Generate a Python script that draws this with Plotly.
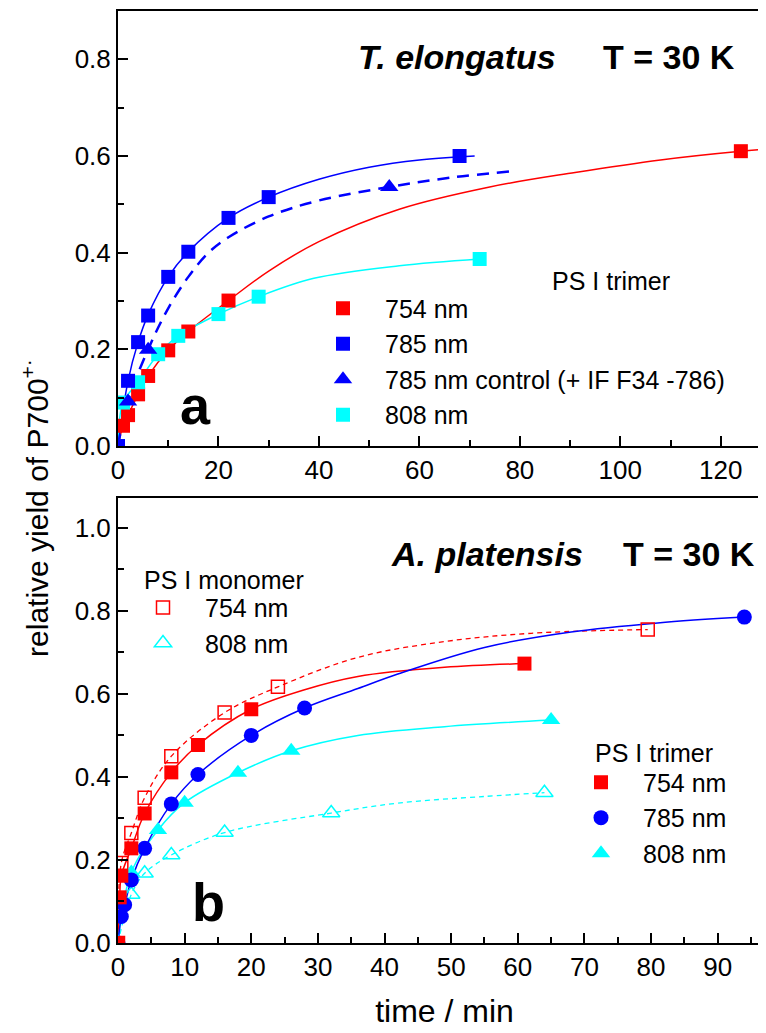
import plotly.graph_objects as go

# ---------------- Panel a : T. elongatus (PS I trimer) ----------------
a_t_754 = [0, 1, 2, 4, 6, 10, 14, 22, 124]
a_v_754 = [0, 0.042, 0.064, 0.107, 0.145, 0.198, 0.237, 0.301, 0.61]
a_t_785 = [0, 2, 4, 6, 10, 14, 22, 30, 68]
a_v_785 = [0, 0.135, 0.215, 0.27, 0.35, 0.402, 0.472, 0.515, 0.60]
a_t_ctl = [0, 2, 6, 54]
a_v_ctl = [0, 0.092, 0.199, 0.536]
a_t_808 = [0, 1, 4, 8, 12, 20, 28, 72]
a_v_808 = [0, 0.09, 0.132, 0.19, 0.228, 0.273, 0.309, 0.387]

# fit curves
a_fit_t_754 = [0, 1, 2, 4, 6, 10, 14, 22, 30, 40, 56, 74, 91, 108, 124, 130]
a_fit_v_754 = [0, 0.042, 0.064, 0.107, 0.145, 0.198, 0.237, 0.301, 0.362, 0.423, 0.49, 0.536, 0.566, 0.592, 0.61, 0.615]
a_fit_t_785 = [0, 2, 4, 6, 10, 14, 22, 30, 40, 50, 60, 71]
a_fit_v_785 = [0, 0.135, 0.215, 0.272, 0.35, 0.402, 0.472, 0.515, 0.552, 0.577, 0.592, 0.60]
a_fit_t_ctl = [0, 2, 6, 10, 14, 18, 22, 30, 40, 54, 66, 78]
a_fit_v_ctl = [0, 0.094, 0.2, 0.285, 0.35, 0.40, 0.432, 0.475, 0.508, 0.536, 0.555, 0.568]
a_fit_t_808 = [0, 1, 4, 8, 12, 20, 28, 39, 56, 72]
a_fit_v_808 = [0, 0.09, 0.132, 0.19, 0.228, 0.273, 0.309, 0.347, 0.373, 0.387]

# ---------------- Panel b : A. platensis ----------------
b_t_tri754 = [0, 0.25, 0.5, 2, 4, 8, 12, 20, 61]
b_v_tri754 = [0, 0.11, 0.162, 0.228, 0.312, 0.411, 0.477, 0.563, 0.673]
b_t_tri785 = [0, 0.5, 1, 2, 4, 8, 12, 20, 28, 94]
b_v_tri785 = [0, 0.064, 0.092, 0.152, 0.228, 0.335, 0.406, 0.50, 0.566, 0.785]
b_t_tri808 = [0, 2, 6, 10, 18, 26, 65]
b_v_tri808 = [0, 0.17, 0.272, 0.338, 0.41, 0.463, 0.537]
b_t_mon754 = [0, 0.5, 2, 4, 8, 16, 24, 79.5]
b_v_mon754 = [0, 0.193, 0.265, 0.35, 0.45, 0.555, 0.617, 0.755]
b_t_mon808 = [0, 2, 4, 8, 16, 32, 64]
b_v_mon808 = [0, 0.117, 0.168, 0.212, 0.266, 0.313, 0.362]

b_fit_t_tri754 = [0, 0.25, 0.5, 2, 4, 8, 12, 20, 28, 36, 49, 61]
b_fit_v_tri754 = [0, 0.11, 0.162, 0.228, 0.312, 0.411, 0.477, 0.563, 0.61, 0.642, 0.664, 0.673]
b_fit_t_tri785 = [0, 0.5, 1, 2, 4, 8, 12, 20, 28, 36, 42, 55, 68, 81, 94]
b_fit_v_tri785 = [0, 0.064, 0.092, 0.152, 0.228, 0.335, 0.406, 0.50, 0.566, 0.613, 0.648, 0.712, 0.749, 0.771, 0.785]
b_fit_t_tri808 = [0, 2, 6, 10, 18, 26, 36, 49, 65]
b_fit_v_tri808 = [0, 0.17, 0.272, 0.338, 0.41, 0.463, 0.50, 0.521, 0.537]
b_fit_t_mon754 = [0, 0.5, 2, 4, 8, 16, 24, 36, 49, 62, 79.5]
b_fit_v_mon754 = [0, 0.193, 0.265, 0.35, 0.45, 0.555, 0.617, 0.688, 0.726, 0.746, 0.755]
b_fit_t_mon808 = [0, 2, 4, 8, 16, 32, 42, 55, 64]
b_fit_v_mon808 = [0, 0.117, 0.168, 0.212, 0.266, 0.313, 0.337, 0.353, 0.362]

RED = "#FF0000"
BLUE = "#0000FF"
CYAN = "#00FFFF"
FONT = "Liberation Sans, Arial, sans-serif"

fig = go.Figure()


def fit(t, v, color, xa, ya, dash="solid", width=1.5):
    fig.add_trace(go.Scatter(x=t, y=v, mode="lines", xaxis=xa, yaxis=ya,
                             line=dict(color=color, width=width, dash=dash, shape="spline", smoothing=1.0),
                             showlegend=False, hoverinfo="skip"))


def pts(t, v, color, symbol, size, name, xa, ya, legend, rank, open_=False):
    marker = dict(symbol=symbol, size=size, color=color)
    if open_:
        marker["line"] = dict(color=color, width=1.5)
    else:
        marker["line"] = dict(width=0)
    fig.add_trace(go.Scatter(x=t, y=v, mode="markers", xaxis=xa, yaxis=ya, marker=marker,
                             name=name, legend=legend, legendrank=rank))

# panel a fits
fit(a_fit_t_754, a_fit_v_754, RED, "x", "y")
fit(a_fit_t_808, a_fit_v_808, CYAN, "x", "y")
fit(a_fit_t_785, a_fit_v_785, BLUE, "x", "y")
fit(a_fit_t_ctl, a_fit_v_ctl, BLUE, "x", "y", dash="12px,8px", width=2.5)
# panel a points
pts(a_t_754, a_v_754, RED, "square", 14, "754 nm", "x", "y", "legend", 1)
pts(a_t_808, a_v_808, CYAN, "square", 14, "808 nm", "x", "y", "legend", 4)
pts(a_t_785, a_v_785, BLUE, "square", 14, "785 nm", "x", "y", "legend", 2)
pts(a_t_ctl, a_v_ctl, BLUE, "triangle-up", 16, "785 nm control (+ IF F34 -786)", "x", "y", "legend", 3)

# panel b fits
fit(b_fit_t_mon754, b_fit_v_mon754, RED, "x2", "y2", dash="5px,4px", width=1.3)
fit(b_fit_t_mon808, b_fit_v_mon808, CYAN, "x2", "y2", dash="5px,4px", width=1.3)
fit(b_fit_t_tri754, b_fit_v_tri754, RED, "x2", "y2")
fit(b_fit_t_tri808, b_fit_v_tri808, CYAN, "x2", "y2")
fit(b_fit_t_tri785, b_fit_v_tri785, BLUE, "x2", "y2")
# panel b points
pts(b_t_mon754, b_v_mon754, RED, "square-open", 13, "754 nm", "x2", "y2", "legend3", 1, open_=True)
pts(b_t_mon808, b_v_mon808, CYAN, "triangle-up-open", 15, "808 nm", "x2", "y2", "legend3", 2, open_=True)
pts(b_t_tri808, b_v_tri808, CYAN, "triangle-up", 16, "808 nm", "x2", "y2", "legend2", 3)
pts(b_t_tri785, b_v_tri785, BLUE, "circle", 15, "785 nm", "x2", "y2", "legend2", 2)
pts(b_t_tri754, b_v_tri754, RED, "square", 14, "754 nm", "x2", "y2", "legend2", 1)

TICKFONT = dict(family=FONT, size=26, color="black")
axis_common = dict(showline=True, linecolor="black", linewidth=2, mirror=True,
                   ticks="inside", ticklen=10, tickwidth=2, tickcolor="black",
                   showgrid=False, zeroline=False, tickfont=TICKFONT)
minor_common = dict(ticks="inside", ticklen=6, tickwidth=2, tickcolor="black")

W, H = 766, 1033
L, B, PW, PH = 110, 98, 653, 934
def px(xp):
    return (xp - L) / PW
def py(yp):
    return (H - B - yp) / PH

LEGFONT = dict(family=FONT, size=25, color="black")
leg_common = dict(xanchor="left", yanchor="top", font=LEGFONT, bgcolor="rgba(0,0,0,0)",
                  itemwidth=74, traceorder="normal", itemsizing="trace", tracegroupgap=0)
fig.update_layout(
    width=W, height=H,
    margin=dict(l=L, r=W - L - PW, t=H - B - PH, b=B),
    paper_bgcolor="white", plot_bgcolor="white",
    font=dict(family=FONT, color="black"),
    xaxis=dict(domain=[0, 1], anchor="y", range=[0, 130], dtick=20,
               minor=dict(dtick=10, **minor_common), **axis_common),
    yaxis=dict(domain=[py(437), 1], anchor="x", range=[0, 0.9], dtick=0.2, tickformat=".1f",
               minor=dict(dtick=0.1, **minor_common), **axis_common),
    xaxis2=dict(domain=[0, 1], anchor="y2", range=[0, 98], dtick=10,
                minor=dict(dtick=5, **minor_common),
                title=dict(text="time / min", font=dict(family=FONT, size=32), standoff=18),
                **axis_common),
    yaxis2=dict(domain=[0, py(489)], anchor="x2", range=[0, 1.072], dtick=0.2, tickformat=".1f",
                minor=dict(dtick=0.1, **minor_common), **axis_common),
    legend=dict(x=px(293), y=py(276), **leg_common),
    legend2=dict(x=px(551), y=py(751), **leg_common),
    legend3=dict(x=px(113), y=py(576), **leg_common),
)

ann = []
def txt(text, x, y, size, xanchor="center", textangle=0):
    ann.append(dict(text=text, x=x, y=y, xref="paper", yref="paper", showarrow=False,
                    xanchor=xanchor, yanchor="middle", textangle=textangle,
                    font=dict(family=FONT, size=size, color="black")))

txt("<b><i>T. elongatus</i></b>", px(348), py(47), 34, xanchor="left")
txt("<b>T = 30 K</b>", px(729), py(47), 34, xanchor="right")
txt("<b><i>A. platensis</i></b>", px(381), py(545), 34, xanchor="left")
txt("<b>T = 30 K</b>", px(749), py(545), 34, xanchor="right")
txt("<b>a</b>", px(187), py(396), 54)
txt("<b>b</b>", px(200), py(894), 54)
txt("PS I trimer", px(603), py(272), 25)
txt("PS I monomer", px(216), py(571), 25)
txt("PS I trimer", px(646), py(745), 25)
txt("relative yield of P700<sup>+·</sup>", px(27), py(499), 30, textangle=-90)
fig.update_layout(annotations=ann)

fig.write_html("out.html")
